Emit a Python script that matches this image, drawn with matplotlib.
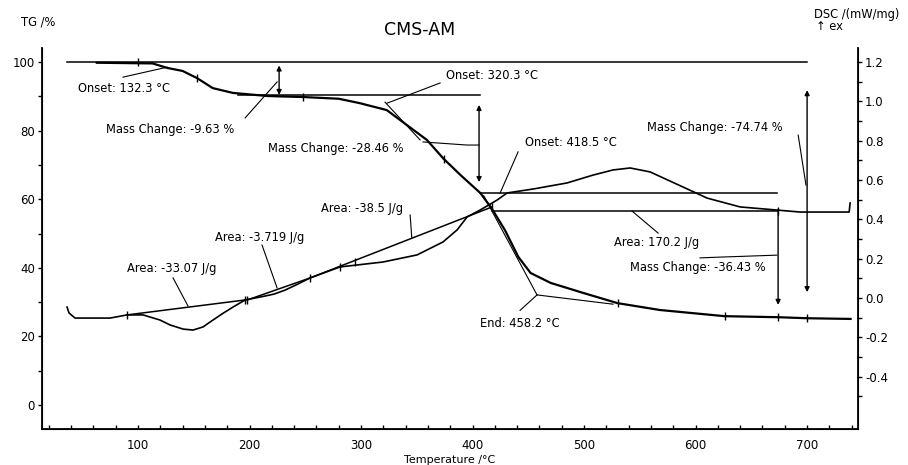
import numpy as np
import matplotlib
matplotlib.use('Agg')
import matplotlib.pyplot as plt

plt.rcParams['font.family'] = ['DejaVu Sans']

# TG curve (temperature in C, mass in %)
tg_temp = [63, 113, 126, 140, 153, 167, 185, 216, 248, 280, 299, 323, 347, 359, 374,
           390, 407, 417, 429, 441, 452, 470, 499, 530, 568, 626, 674, 700, 739]
tg_mass = [99.8, 99.6, 98.3, 97.4, 95.3, 92.4, 91.0, 90.1, 89.8, 89.3, 88.0, 86.0, 80.2, 77.3, 71.8,
           66.8, 61.8, 57.4, 51.0, 43.2, 38.5, 35.6, 32.7, 29.7, 27.7, 25.9, 25.6, 25.3, 25.1]

# DSC curve (mW/mg)
dsc_temp = [36.3, 38.1, 43.5, 74.9, 90.1, 104.5, 119.7, 128.7, 140.4, 149.3, 158.3, 164.6,
            175.3, 185.2, 196.0, 204.9, 213.9, 222.0, 231.8, 243.0, 254.3, 281.2, 319.7, 350.2,
            373.5, 386.1, 395.1, 406.7, 422.0, 430.9, 454.3, 484.8, 508.1, 526.0, 541.3, 559.2,
            588.8, 610.3, 639.9, 673.1, 693.7, 723.3, 737.7, 738.6]
dsc_val = [-0.046, -0.076, -0.102, -0.102, -0.086, -0.086, -0.112, -0.137, -0.158, -0.163, -0.147, -0.122,
           -0.081, -0.046, -0.010, 0.000, 0.010, 0.020, 0.040, 0.070, 0.102, 0.158, 0.183, 0.219,
           0.285, 0.346, 0.412, 0.447, 0.498, 0.534, 0.554, 0.585, 0.625, 0.651, 0.661, 0.641,
           0.564, 0.508, 0.463, 0.447, 0.437, 0.437, 0.437, 0.483]

# evaluation results
mass_steps = [100.0, 90.37, 61.91, 25.48]
dsc_base1 = ([90.1, 196.0], [-0.086, -0.010])
dsc_base2 = ([198.0, 254.3], [-0.010, 0.102])
dsc_base3 = ([254.3, 417.5], [0.102, 0.463])
dsc_base4 = ([417.5, 674.0], [0.440, 0.440])

fig = plt.figure(figsize=(9.08, 4.65), dpi=100, facecolor='white')
ax = fig.add_axes([0.0463, 0.0774, 0.8987, 0.8194])
ax2 = ax.twinx()

ax.set_xlim(13.9, 745.7)
ax.set_ylim(-7.0, 104.1)
ax2.set_ylim(-0.666, 1.271)

lw_thin = 0.8
k = 'black'

# TG
ax.plot(tg_temp, tg_mass, color=k, lw=1.6)
ax.plot([36.3, 700], [mass_steps[0]] * 2, color=k, lw=1.1)
ax.plot([190, 407], [mass_steps[1]] * 2, color=k, lw=1.1)
ax.plot([406.7, 673], [mass_steps[2]] * 2, color=k, lw=1.1)
ax.plot([100, 153, 248, 374, 530, 626, 674, 700], [100.0, 95.3, 89.8, 71.8, 29.7, 25.9, 25.6, 25.3],
        ls='none', marker='|', ms=6, color=k, mew=1)

# tangents
ax.plot([321.5, 352.9], [88.3, 77.3], color=k, lw=lw_thin)
ax.plot([410, 457.8], [61.0, 32.1], color=k, lw=lw_thin)
ax.plot([457.8, 526], [32.1, 29.4], color=k, lw=lw_thin)

# DSC
ax2.plot(dsc_temp, dsc_val, color=k, lw=1.2)
for bx, by in (dsc_base1, dsc_base2, dsc_base3, dsc_base4):
    ax2.plot(bx, by, color=k, lw=1.1)
ax2.plot([90.1, 196.0, 198.0, 254.3, 281.2, 295, 417.5, 674.0],
         [-0.086, -0.010, -0.010, 0.102, 0.158, 0.185, 0.463, 0.440],
         ls='none', marker='|', ms=6, color=k, mew=1)

# mass change arrows
arr2 = dict(arrowstyle='<|-|>', color=k, lw=1.0, mutation_scale=7, shrinkA=0, shrinkB=0)
arr1 = dict(arrowstyle='-|>', color=k, lw=1.0, mutation_scale=7, shrinkA=0, shrinkB=0)
ax.annotate('', xy=(226.5, 99.0), xytext=(226.5, 90.4), arrowprops=arr2)
ax.plot([222, 231], [90.0, 90.0], color=k, lw=lw_thin)
ax.annotate('', xy=(405.8, 87.5), xytext=(405.8, 65.0), arrowprops=arr2)
ax.annotate('', xy=(674, 29.2), xytext=(674, 57.1), arrowprops=arr1)
ax.annotate('', xy=(700, 91.8), xytext=(700, 32.9), arrowprops=arr2)

# leader lines
ax.plot([86.5, 126], [95.6, 98.5], color=k, lw=lw_thin)
ax.plot([196, 224.7], [83.7, 94.2], color=k, lw=lw_thin)
ax.plot([370.9, 323.3], [93.9, 88.0], color=k, lw=lw_thin)
ax.plot([355.6, 395, 405.8], [76.7, 75.8, 75.8], color=k, lw=lw_thin)
ax.plot([440.8, 424.7], [73.8, 61.8], color=k, lw=lw_thin)
ax.plot([442.6, 457.8], [27.6, 32.1], color=k, lw=lw_thin)
ax.plot([604, 620, 673], [42.9, 43.1, 43.7], color=k, lw=lw_thin)
ax.plot([692, 699], [78.7, 64.1], color=k, lw=lw_thin)
ax2.plot([131.4, 144.8], [0.102, -0.041], color=k, lw=lw_thin)
ax2.plot([211.2, 224.7], [0.269, 0.051], color=k, lw=lw_thin)
ax2.plot([344, 345.5], [0.422, 0.305], color=k, lw=lw_thin)
ax2.plot([543, 566.4], [0.442, 0.330], color=k, lw=lw_thin)

fs = 8.3
labels = [
    (87.4, 92.4, 'Onset: 132.3 °C'),
    (128.7, 80.2, 'Mass Change: -9.63 %'),
    (417.5, 96.2, 'Onset: 320.3 °C'),
    (277.6, 74.9, 'Mass Change: -28.46 %'),
    (488.3, 76.4, 'Onset: 418.5 °C'),
    (617.5, 81.0, 'Mass Change: -74.74 %'),
    (300.9, 57.4, 'Area: -38.5 J/g'),
    (209.4, 48.7, 'Area: -3.719 J/g'),
    (130.5, 39.9, 'Area: -33.07 J/g'),
    (564.6, 47.5, 'Area: 170.2 J/g'),
    (602.2, 40.2, 'Mass Change: -36.43 %'),
    (442.6, 23.9, 'End: 458.2 °C'),
]
for tx, ty, s in labels:
    ax.text(tx, ty, s, ha='center', va='center', fontsize=fs)

# axes styling
ax.spines['top'].set_visible(False)
ax2.spines['top'].set_visible(False)
for sp in ('left', 'bottom'):
    ax.spines[sp].set_linewidth(1.3)
ax2.spines['right'].set_linewidth(1.3)

ax.set_xticks(np.arange(100, 701, 100))
ax.set_xticks(np.arange(20, 741, 20), minor=True)
ax.set_yticks(np.arange(0, 101, 20))
ax.set_yticks(np.arange(0, 101, 10), minor=True)
dsc_ticks = np.round(np.arange(-0.4, 1.21, 0.2), 1)
ax2.set_yticks(dsc_ticks)
ax2.set_yticks(np.round(np.arange(-0.5, 1.25, 0.1), 1), minor=True)
ax2.set_yticklabels(['%.1f' % v for v in dsc_ticks])

ax.tick_params(axis='x', which='both', direction='in', length=3, width=1, labelsize=8.5, pad=7)
ax.tick_params(axis='y', which='both', direction='out', length=3, width=1, labelsize=8.5, pad=2)
ax2.tick_params(axis='y', which='both', direction='out', length=3, width=1, labelsize=8.5, pad=2)

fig.text(0.462, 0.935, 'CMS-AM', ha='center', va='center', fontsize=12.5)
fig.text(0.042, 0.953, 'TG /%', ha='center', va='center', fontsize=8.3)
fig.text(0.943, 0.968, 'DSC /(mW/mg)', ha='center', va='center', fontsize=8.3)
fig.text(0.913, 0.942, '↑ ex', ha='center', va='center', fontsize=8.3)
fig.text(0.495, 0.011, 'Temperature /°C', ha='center', va='center', fontsize=8)

fig.savefig('out.png', dpi=100)
